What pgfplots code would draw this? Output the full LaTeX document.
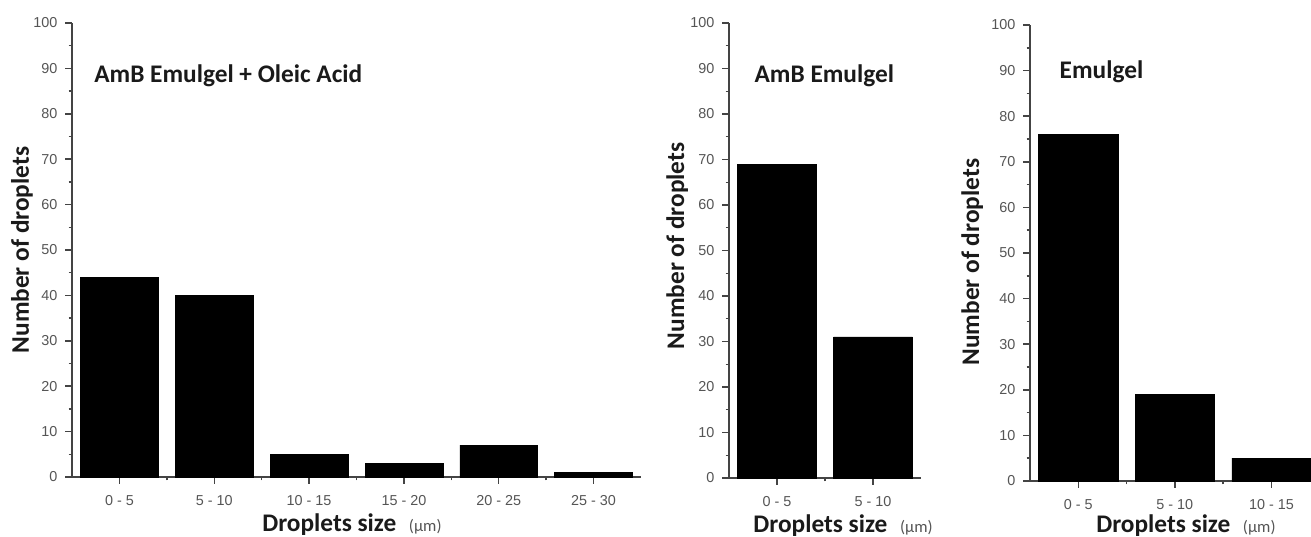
\documentclass[border=0pt]{standalone}
\usepackage{fontspec}
\setmainfont{Carlito}
\newfontfamily\arialfont{Liberation Sans}
\usepackage{pgfplots}
\pgfplotsset{compat=1.18}
\definecolor{axisgray}{HTML}{444444}
\definecolor{tickgray}{HTML}{555555}
\definecolor{labelblack}{HTML}{1A1A1A}

\pgfplotsset{
  emstyle/.style={
    scale only axis,
    anchor=south west,
    clip mode=individual,
    axis x line*=bottom,
    axis y line*=left,
    axis line style={axisgray, line width=1.3pt},
    ymin=0, ymax=100,
    ytick={0,10,...,100},
    minor ytick={5,15,...,95},
    xmin=-0.5,
    tick align=outside,
    major tick length=5pt,
    minor tick length=2.5pt,
    every tick/.style={axisgray, line width=1.1pt},
    ticklabel style={font=\arialfont\fontsize{10.8}{12}\selectfont, text=tickgray},
    yticklabel style={xshift=-2.5pt},
    xticklabel style={yshift=-5pt},
    /pgf/number format/assume math mode=true,
    ybar, bar width=0.82,
    ylabel={Number of droplets},
    ylabel style={font=\bfseries\fontsize{19}{22}\selectfont, text=labelblack, anchor=center},
    xlabel={Droplets size\hspace{0.5em}{\mdseries\fontsize{12.5}{14}\selectfont\color{tickgray}(µm)}},
    xlabel style={font=\bfseries\fontsize{19}{22}\selectfont, text=labelblack, anchor=base},
  },
  barstyle/.style={fill=black, draw=black, line width=0.4pt},
}

\pgfplotstableread{
x y
0 44
1 40
2 5
3 3
4 7
5 1
}\dataA
\pgfplotstableread{
x y
0 69
1 31
}\dataB
\pgfplotstableread{
x y
0 76
1 19
2 5
}\dataC

\begin{document}
\begin{tikzpicture}
\path[use as bounding box] (0,0) rectangle (983.25pt,402pt);

% Panel 1
\begin{axis}[emstyle,
  at={(54pt,44.25pt)}, width=426.75pt, height=340.5pt,
  xmax=5.5,
  xtick={0,1,2,3,4,5},
  xticklabels={0 - 5, 5 - 10, 10 - 15, 15 - 20, 20 - 25, 25 - 30},
  minor xtick={0.5,1.5,2.5,3.5,4.5},
  ylabel style={at={(axis description cs:-0.088,0.5)}},
  xlabel style={at={(axis description cs:0.492,-0.121)}},
]
\addplot[barstyle] table[x=x,y=y] {\dataA};
\node[anchor=base west, font=\bfseries\fontsize{19}{22}\selectfont, text=labelblack] at (axis description cs:0.031,0.868) {AmB Emulgel + Oleic Acid};
\end{axis}

% Panel 2
\begin{axis}[emstyle,
  at={(546.75pt,43.5pt)}, width=144pt, height=341.25pt,
  xmax=1.5,
  xtick={0,1},
  xticklabels={0 - 5, 5 - 10},
  minor xtick={0.5},
  ylabel style={at={(axis description cs:-0.27,0.51)}},
  xlabel style={at={(axis description cs:0.594,-0.119)}},
]
\addplot[barstyle] table[x=x,y=y] {\dataB};
\node[anchor=base west, font=\bfseries\fontsize{19}{22}\selectfont, text=labelblack] at (axis description cs:0.109,0.870) {AmB Emulgel};
\end{axis}

% Panel 3
\begin{axis}[emstyle,
  at={(772.5pt,41.25pt)}, width=210.75pt, height=342pt,
  xmax=2.41,
  xtick={0,1,2},
  xticklabels={0 - 5, 5 - 10, 10 - 15},
  minor xtick={0.5,1.5},
  ylabel style={at={(axis description cs:-0.206,0.48)}},
  xlabel style={at={(axis description cs:0.555,-0.112)}},
]
\addplot[barstyle] table[x=x,y=y] {\dataC};
\node[anchor=base west, font=\bfseries\fontsize{19}{22}\selectfont, text=labelblack] at (axis description cs:0.089,0.882) {Emulgel};
\end{axis}
\end{tikzpicture}
\end{document}
